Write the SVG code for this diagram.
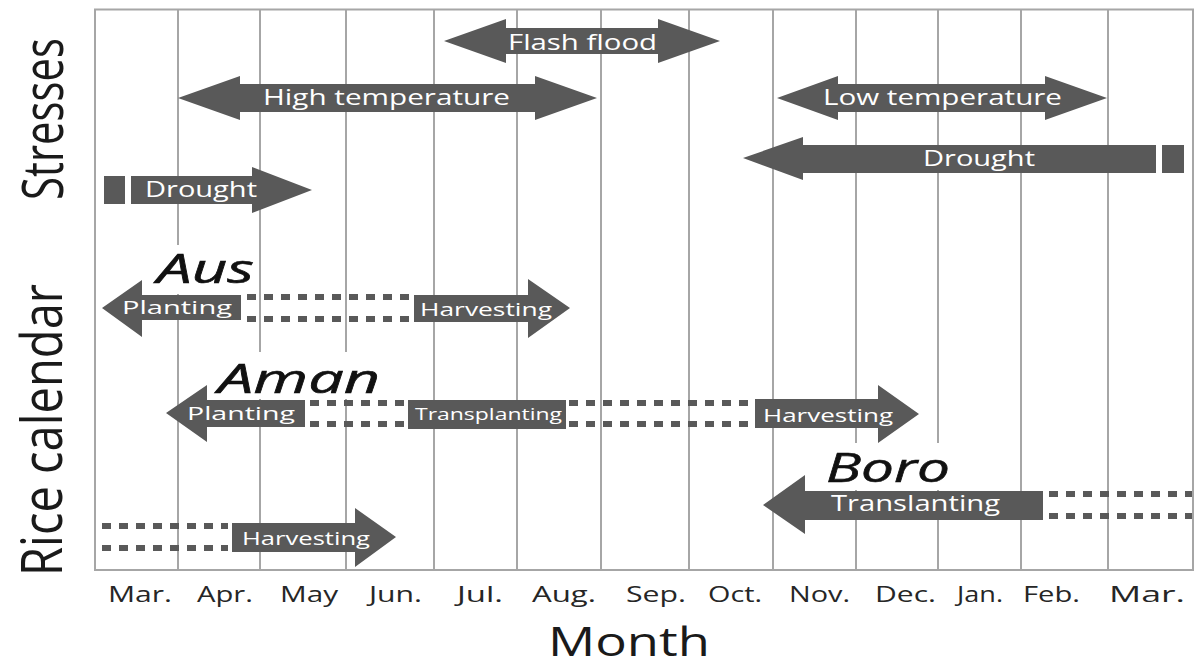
<svg xmlns="http://www.w3.org/2000/svg" width="1195" height="664" viewBox="0 0 1195 664">
<style>
.grid{stroke:#a6a6a6;stroke-width:2;fill:none}
.frame{stroke:#a6a6a6;stroke-width:2;fill:none}
.arrow{fill:#595959}
.cover{fill:#ffffff}
.dash{stroke:#595959;stroke-width:6;stroke-dasharray:9 8;fill:none}
.lbl{font-family:"Open Sans","Liberation Sans",sans-serif;fill:#ffffff}
.axis{font-family:"Open Sans","Liberation Sans",sans-serif;fill:#262626;font-size:21px}
.season{font-family:"Open Sans","Liberation Sans",sans-serif;font-style:italic;fill:#111111;stroke:#111111;stroke-width:0.6}
.side{font-family:"Open Sans","Liberation Sans",sans-serif;fill:#1a1a1a;text-anchor:middle}
</style>
<rect width="1195" height="664" fill="#ffffff"/>
<g id="grid">
<rect class="frame" x="95" y="9.5" width="1098" height="560.5"/>
<path class="grid" d="M178,10V570M260,10V570M346,10V570M434,10V570M517,10V570M601,10V570M689,10V570M773,10V570M856,10V570M938,10V570M1021,10V570M1108,10V570"/>
</g>
<g id="covers">
<rect class="cover" x="150" y="245" width="106" height="49"/>
<rect class="cover" x="205" y="352" width="194" height="47"/>
<rect class="cover" x="785" y="443" width="178" height="47"/>
</g>
<g id="connectors">
<path class="dash" d="M247,297H410M247,319H410"/>
<path class="dash" d="M310,403H405M310,424H405M569,403H752M569,424H752"/>
<path class="dash" d="M1049,494H1192M1049,516H1192"/>
<path class="dash" d="M102,526H228M102,548H228"/>
</g>
<g id="flash-flood">
<path class="arrow" d="M444,41L506,19V28H658V19L720,41L658,63V54H506V63Z"/>
<text class="lbl" x="508" y="49.5" font-size="22" textLength="149" lengthAdjust="spacingAndGlyphs">Flash flood</text>
</g>
<g id="high-temperature">
<path class="arrow" d="M178,98L240,76V84H535V76L597,98L535,120V112H240V120Z"/>
<text class="lbl" x="263" y="105" font-size="22" textLength="247" lengthAdjust="spacingAndGlyphs">High temperature</text>
</g>
<g id="low-temperature">
<path class="arrow" d="M777,98L838,76V84H1045V76L1107,98L1045,120V112H838V120Z"/>
<text class="lbl" x="823" y="105" font-size="22" textLength="239" lengthAdjust="spacingAndGlyphs">Low temperature</text>
</g>
<g id="drought-late">
<path class="arrow" d="M743,158L803,137V145H1156V173H803V180Z"/>
<rect class="arrow" x="1162" y="145" width="22" height="28"/>
<text class="lbl" x="923" y="166" font-size="22" textLength="112" lengthAdjust="spacingAndGlyphs">Drought</text>
</g>
<g id="drought-early">
<rect class="arrow" x="104" y="176" width="21" height="28"/>
<path class="arrow" d="M131,176H252V167L312,190L252,213V204H131Z"/>
<text class="lbl" x="145" y="197" font-size="22" textLength="112" lengthAdjust="spacingAndGlyphs">Drought</text>
</g>
<g id="aus">
<text class="season" x="157" y="283" font-size="40" textLength="97" lengthAdjust="spacingAndGlyphs">Aus</text>
</g>
<g id="aus-planting">
<path class="arrow" d="M102,308L142,280V295H241V320H142V337Z"/>
<text class="lbl" x="122" y="314" font-size="19" textLength="110" lengthAdjust="spacingAndGlyphs">Planting</text>
</g>
<g id="aus-harvesting">
<path class="arrow" d="M414,295H528V279L570,308L528,338V322H414Z"/>
<text class="lbl" x="420" y="316" font-size="19" textLength="132" lengthAdjust="spacingAndGlyphs">Harvesting</text>
</g>
<g id="aman">
<text class="season" x="218" y="393" font-size="40" textLength="162" lengthAdjust="spacingAndGlyphs">Aman</text>
</g>
<g id="aman-planting">
<path class="arrow" d="M166,413L207,385V400H305V427H207V442Z"/>
<text class="lbl" x="187" y="420" font-size="19" textLength="108" lengthAdjust="spacingAndGlyphs">Planting</text>
</g>
<g id="aman-transplanting">
<rect class="arrow" x="408" y="400" width="158" height="29"/>
<text class="lbl" x="415" y="420" font-size="17" textLength="147" lengthAdjust="spacingAndGlyphs">Transplanting</text>
</g>
<g id="aman-harvesting">
<path class="arrow" d="M755,399H878V385L919,414L878,443V428H755Z"/>
<text class="lbl" x="763" y="422" font-size="19" textLength="130" lengthAdjust="spacingAndGlyphs">Harvesting</text>
</g>
<g id="boro">
<text class="season" x="826" y="482" font-size="40" textLength="124" lengthAdjust="spacingAndGlyphs">Boro</text>
</g>
<g id="boro-translanting">
<path class="arrow" d="M763,505L805,475V491H1043V520H805V534Z"/>
<text class="lbl" x="831" y="511" font-size="21" textLength="169" lengthAdjust="spacingAndGlyphs">Translanting</text>
</g>
<g id="boro-harvesting">
<path class="arrow" d="M232,523H355V508L396,537L355,567V552H232Z"/>
<text class="lbl" x="242" y="545" font-size="19" textLength="128" lengthAdjust="spacingAndGlyphs">Harvesting</text>
</g>
<g id="months">
<text class="axis" x="108" y="602" textLength="64" lengthAdjust="spacingAndGlyphs">Mar.</text>
<text class="axis" x="197" y="602" textLength="56" lengthAdjust="spacingAndGlyphs">Apr.</text>
<text class="axis" x="280" y="602" textLength="58" lengthAdjust="spacingAndGlyphs">May</text>
<text class="axis" x="369" y="602" textLength="53" lengthAdjust="spacingAndGlyphs">Jun.</text>
<text class="axis" x="457" y="602" textLength="46" lengthAdjust="spacingAndGlyphs">Jul.</text>
<text class="axis" x="532" y="602" textLength="64" lengthAdjust="spacingAndGlyphs">Aug.</text>
<text class="axis" x="626" y="602" textLength="60" lengthAdjust="spacingAndGlyphs">Sep.</text>
<text class="axis" x="708" y="602" textLength="54" lengthAdjust="spacingAndGlyphs">Oct.</text>
<text class="axis" x="789" y="602" textLength="61" lengthAdjust="spacingAndGlyphs">Nov.</text>
<text class="axis" x="875" y="602" textLength="61" lengthAdjust="spacingAndGlyphs">Dec.</text>
<text class="axis" x="957" y="602" textLength="46" lengthAdjust="spacingAndGlyphs">Jan.</text>
<text class="axis" x="1023" y="602" textLength="57" lengthAdjust="spacingAndGlyphs">Feb.</text>
<text class="axis" x="1109" y="602" textLength="76" lengthAdjust="spacingAndGlyphs">Mar.</text>
</g>
<g id="axis-title">
<text x="548" y="656" font-family="Open Sans, Liberation Sans, sans-serif" font-size="40" fill="#1a1a1a" textLength="162" lengthAdjust="spacingAndGlyphs">Month</text>
</g>
<g id="side-labels">
<text class="side" transform="translate(63 119) scale(1.25 1) rotate(-90)" font-size="46" textLength="162" lengthAdjust="spacingAndGlyphs">Stresses</text>
<text class="side" transform="translate(62 430) scale(1.25 1) rotate(-90)" font-size="46" textLength="292" lengthAdjust="spacingAndGlyphs">Rice calendar</text>
</g>
</svg>
